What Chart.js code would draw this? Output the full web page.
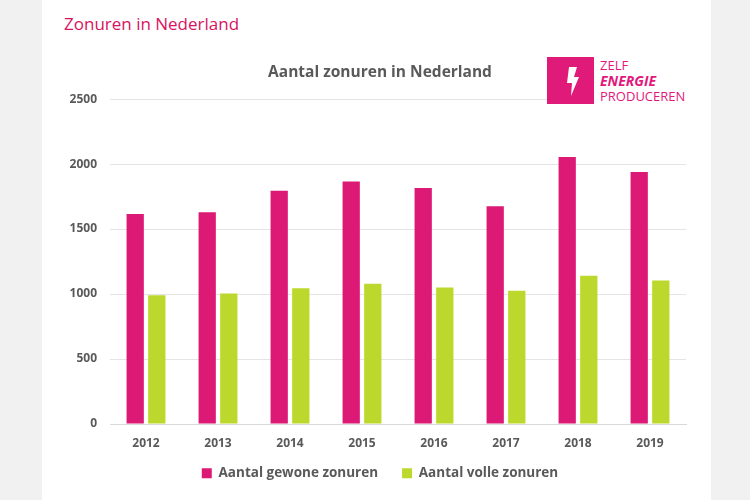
<!DOCTYPE html>
<html>
<head>
<meta charset="utf-8">
<title>Zonuren in Nederland</title>
<script src="https://cdn.jsdelivr.net/npm/chart.js@4"></script>
<style>
  html, body { margin: 0; padding: 0; background: #f1f1f1; }
  #pagina { position: relative; width: 750px; height: 500px; overflow: hidden; }
  #paneel { position: absolute; left: 42px; top: 0; width: 669px; height: 500px; background: #fff; }
  #kop { position: absolute; left: 64px; top: 12px; font: 17px "Open Sans", sans-serif; color: #d8125f; }
  #grafiek { position: absolute; left: 10px; top: 0; width: 740px; height: 500px; }
  #logovlak { position: absolute; left: 547px; top: 55px; width: 145px; height: 52px; background: #fff; }
  #logo { position: absolute; left: 547px; top: 57px; width: 47px; height: 47px; background: #df1a78; }
  #logo svg { position: absolute; left: 0; top: 0; }
  #logotekst { position: absolute; left: 600px; top: 58px; font: 13px/15px "Open Sans", sans-serif; color: #e2187c; }
  #logotekst b { font-style: italic; font-size: 14px; }
</style>
</head>
<body>
<div id="pagina">
  <div id="paneel"></div>
  <div id="kop">Zonuren in Nederland</div>
  <canvas id="grafiek" width="740" height="500"></canvas>
  <div id="logovlak"></div>
  <div id="logo">
    <svg width="47" height="47" viewBox="0 0 47 47"><path d="M22 10 L30 10 L27 20 L32 20 L24 39 L25 26 L20 26 Z" fill="#fff"/></svg>
  </div>
  <div id="logotekst">ZELF<br><b>ENERGIE</b><br>PRODUCEREN</div>
</div>
<script>
const jaren = ['2012', '2013', '2014', '2015', '2016', '2017', '2018', '2019'];
const gewoneZonuren = [1615, 1630, 1795, 1865, 1815, 1675, 2055, 1940];
const volleZonuren = [990, 1005, 1045, 1080, 1050, 1025, 1140, 1105];

const tekstKleur = '#595959';
const letter = { family: '"Open Sans", sans-serif', size: 12, weight: 'bold' };

new Chart(document.getElementById('grafiek'), {
  type: 'bar',
  data: {
    labels: jaren,
    datasets: [
      {
        label: 'Aantal gewone zonuren',
        data: gewoneZonuren,
        backgroundColor: '#dc1a75',
        categoryPercentage: 0.6,
        barPercentage: 0.8
      },
      {
        label: 'Aantal volle zonuren',
        data: volleZonuren,
        backgroundColor: '#bdd82c',
        categoryPercentage: 0.6,
        barPercentage: 0.8
      }
    ]
  },
  options: {
    responsive: false,
    animation: false,
    layout: { padding: { bottom: 10 } },
    scales: {
      x: {
        afterFit: (schaal) => { schaal.height = 18.5; },
        grid: { display: false, drawTicks: false },
        border: { color: '#d9d9d9' },
        // mirror: anders knipt de as de labels af op de vaste hoogte
        ticks: { color: tekstKleur, font: letter, mirror: true, padding: -27 }
      },
      y: {
        min: 0,
        max: 2500,
        afterFit: (schaal) => { schaal.width = 100; },
        grid: { color: '#e4e4e4', drawTicks: false },
        border: { display: false },
        ticks: {
          stepSize: 500,
          color: tekstKleur,
          font: letter,
          padding: 13,
          callback: (waarde) => String(waarde)
        }
      },
      // lege as rechts, houdt titel en legenda gecentreerd op de hele breedte
      rechts: {
        axis: 'y',
        position: 'right',
        afterFit: (schaal) => { schaal.width = 64; },
        grid: { display: false },
        border: { display: false },
        ticks: { display: false }
      }
    },
    plugins: {
      title: {
        display: true,
        text: 'Aantal zonuren in Nederland',
        color: tekstKleur,
        font: { family: '"Open Sans", sans-serif', size: 15.5, weight: 'bold' },
        padding: { top: 63, bottom: 17.5 }
      },
      legend: {
        position: 'bottom',
        labels: {
          color: tekstKleur,
          font: { family: '"Open Sans", sans-serif', size: 13.5, weight: 'bold' },
          boxWidth: 10,
          boxHeight: 10,
          padding: 24
        }
      }
    }
  }
});
</script>
</body>
</html>
